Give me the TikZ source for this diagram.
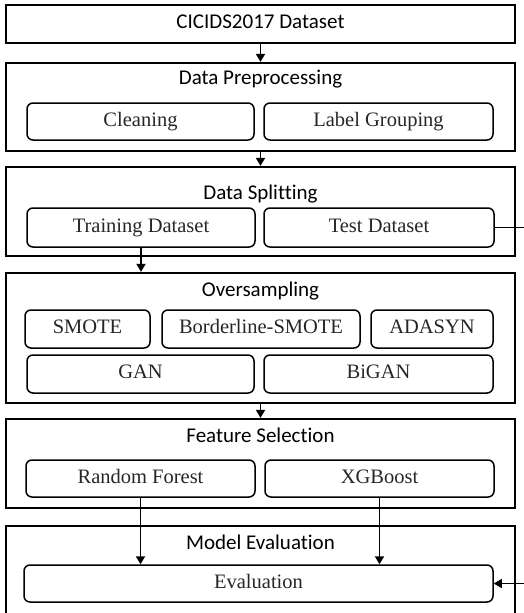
\documentclass[tikz,border=0pt]{standalone}
\usepackage{fontspec}
\setmainfont{Liberation Serif}
\newfontfamily\titlefont[Ligatures=NoCommon]{Carlito}
\usetikzlibrary{arrows.meta}
\tikzset{
  outerbox/.style={draw=black, line width=2.3pt, rectangle, inner sep=0pt},
  innerbox/.style={draw=black, line width=1.5pt, rectangle, rounded corners=6pt, inner sep=0pt,
     text height=14pt, text depth=4.5pt,
     font=\fontsize{20.5}{20.5}\selectfont, text=black!85},
  titletext/.style={inner sep=0pt, text height=13pt, text depth=4pt,
     font=\titlefont\fontsize{21}{21}\selectfont},
  conn/.style={line width=1.8pt, -{Triangle[length=8pt,width=9pt]}},
  plainconn/.style={line width=1.2pt},
}
\begin{document}
\begin{tikzpicture}[x=1pt,y=-1pt]
\useasboundingbox (0,0) rectangle (524,613);
\clip (0,0) rectangle (524,613);
% outer boxes
\node[outerbox, minimum width=509pt, minimum height=38pt] (b1) at (260.5,24) {};
\node[titletext] (t1) at (260.5,24) {CICIDS2017 Dataset};
\node[outerbox, minimum width=509pt, minimum height=88pt] (b2) at (260.5,107) {};
\node[titletext] (t2) at (260.5,80) {Data Preprocessing};
\node[outerbox, minimum width=509pt, minimum height=89pt] (b3) at (260.5,211.5) {};
\node[titletext] (t3) at (260.5,195) {Data Splitting};
\node[outerbox, minimum width=509pt, minimum height=130pt] (b4) at (260.5,338) {};
\node[titletext] (t4) at (260.5,292) {Oversampling};
\node[outerbox, minimum width=509pt, minimum height=89pt] (b5) at (260.5,463.5) {};
\node[titletext] (t5) at (260.5,438) {Feature Selection};
\node[outerbox, minimum width=509pt, minimum height=94pt] (b6) at (260.5,573) {};
\node[titletext] (t6) at (260.5,545) {Model Evaluation};
% inner boxes
\node[innerbox, minimum width=227pt, minimum height=37pt] (clean) at (140.5,121.5) {Cleaning};
\node[innerbox, minimum width=229pt, minimum height=37pt] (label) at (378.5,121.5) {Label Grouping};
\node[innerbox, minimum width=228pt, minimum height=39pt] (train) at (141,227.5) {Training Dataset};
\node[innerbox, minimum width=230pt, minimum height=39pt] (test) at (379,227.5) {Test Dataset};
\node[innerbox, minimum width=125pt, minimum height=38pt] (smote) at (87.5,329) {SMOTE};
\node[innerbox, minimum width=198pt, minimum height=38pt] (bsmote) at (261,329) {Borderline-SMOTE};
\node[innerbox, minimum width=122pt, minimum height=38pt] (adasyn) at (432,329) {ADASYN};
\node[innerbox, minimum width=227pt, minimum height=38pt] (gan) at (140.5,374) {GAN};
\node[innerbox, minimum width=229pt, minimum height=38pt] (bigan) at (378.5,374) {BiGAN};
\node[innerbox, minimum width=229pt, minimum height=37pt] (rf) at (140.5,478.5) {Random Forest};
\node[innerbox, minimum width=229pt, minimum height=37pt] (xgb) at (379.5,478.5) {XGBoost};
\node[innerbox, minimum width=469pt, minimum height=37pt] (eval) at (258.5,583.5) {Evaluation};
% free ends at the right edge
\coordinate (testout) at (526,227.5);
\coordinate (evalin) at (526,583.5);
% connectors
\draw[conn] (b1.south) -- (b2.north);
\draw[conn] (b2.south) -- (b3.north);
\draw[conn] (train.south) -- (train.south |- b4.north);
\draw[conn] (b4.south) -- (b5.north);
\draw[conn] (rf.south) -- (rf.south |- eval.north);
\draw[conn] (xgb.south) -- (xgb.south |- eval.north);
\draw[plainconn] (test.east) -- (testout);
\draw[plainconn, -{Triangle[length=8pt,width=9pt]}] (evalin) -- (eval.east);
\end{tikzpicture}
\end{document}
